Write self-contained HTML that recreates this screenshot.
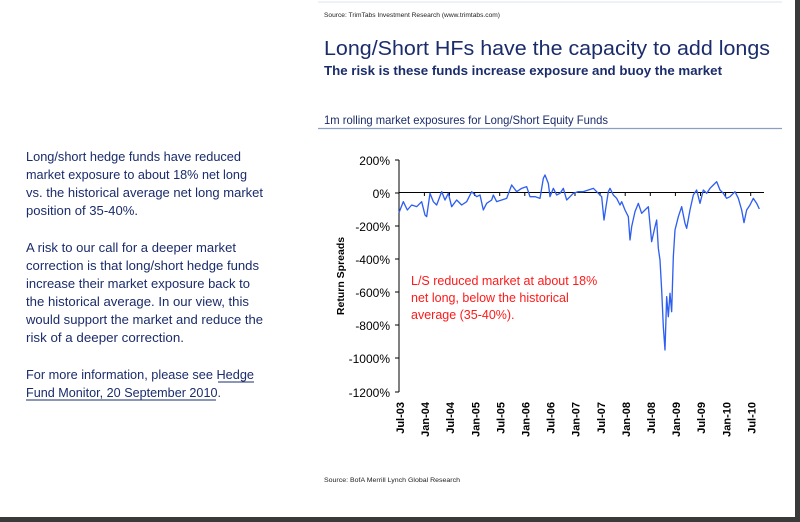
<!DOCTYPE html>
<html><head><meta charset="utf-8"><style>
html,body{margin:0;padding:0;background:#fff;}
svg{display:block;}
text{font-family:"Liberation Sans",sans-serif;}
</style></head><body>
<svg width="800" height="522" viewBox="0 0 800 522" xmlns="http://www.w3.org/2000/svg">
<rect width="800" height="522" fill="#fff"/>
<rect x="795" y="0" width="5" height="522" fill="#3a3a3a"/>
<rect x="0" y="517" width="800" height="5" fill="#3a3a3a"/>
<line x1="318" y1="2" x2="782" y2="2" stroke="#d8e4ee" stroke-width="1"/>
<text x="324" y="17" font-size="6.5" fill="#222" textLength="176" lengthAdjust="spacingAndGlyphs">Source: TrimTabs Investment Research (www.trimtabs.com)</text>
<text x="324" y="55" font-size="20" fill="#1b2c6b" font-family="DejaVu Sans" textLength="446" lengthAdjust="spacingAndGlyphs">Long/Short HFs have the capacity to add longs</text>
<text x="324" y="75" font-size="13" font-weight="bold" fill="#1b2c6b" textLength="398" lengthAdjust="spacingAndGlyphs">The risk is these funds increase exposure and buoy the market</text>
<text x="324" y="124" font-size="12" fill="#1b2c6b" textLength="284" lengthAdjust="spacingAndGlyphs">1m rolling market exposures for Long/Short Equity Funds</text>
<line x1="318" y1="128.5" x2="782" y2="128.5" stroke="#8aa0c0" stroke-width="1.2"/>

<g font-size="12.5" fill="#1b2c6b">
<text x="26" y="161" textLength="215" lengthAdjust="spacingAndGlyphs">Long/short hedge funds have reduced</text>
<text x="26" y="179" textLength="221" lengthAdjust="spacingAndGlyphs">market exposure to about 18% net long</text>
<text x="26" y="197" textLength="237" lengthAdjust="spacingAndGlyphs">vs. the historical average net long market</text>
<text x="26" y="215" textLength="112" lengthAdjust="spacingAndGlyphs">position of 35-40%.</text>
<text x="26" y="252" textLength="210" lengthAdjust="spacingAndGlyphs">A risk to our call for a deeper market</text>
<text x="26" y="270" textLength="233" lengthAdjust="spacingAndGlyphs">correction is that long/short hedge funds</text>
<text x="26" y="288" textLength="224" lengthAdjust="spacingAndGlyphs">increase their market exposure back to</text>
<text x="26" y="306" textLength="223" lengthAdjust="spacingAndGlyphs">the historical average. In our view, this</text>
<text x="26" y="324" textLength="237" lengthAdjust="spacingAndGlyphs">would support the market and reduce the</text>
<text x="26" y="342" textLength="158" lengthAdjust="spacingAndGlyphs">risk of a deeper correction.</text>
<text x="26" y="379" textLength="228" lengthAdjust="spacingAndGlyphs">For more information, please see Hedge</text>
<text x="26" y="397" textLength="195" lengthAdjust="spacingAndGlyphs">Fund Monitor, 20 September 2010.</text>
</g>
<line x1="218" y1="382" x2="254" y2="382" stroke="#1b2c6b" stroke-width="1"/>
<line x1="26" y1="400" x2="216" y2="400" stroke="#1b2c6b" stroke-width="1"/>

<line x1="399" y1="160" x2="399" y2="392" stroke="#000" stroke-width="1"/>
<g stroke="#000" stroke-width="1">
<line x1="395" y1="160" x2="399" y2="160"/>
<line x1="395" y1="193" x2="399" y2="193"/>
<line x1="395" y1="226" x2="399" y2="226"/>
<line x1="395" y1="259" x2="399" y2="259"/>
<line x1="395" y1="292" x2="399" y2="292"/>
<line x1="395" y1="325" x2="399" y2="325"/>
<line x1="395" y1="358" x2="399" y2="358"/>
<line x1="395" y1="392" x2="399" y2="392"/>
</g>
<line x1="399" y1="192.5" x2="764" y2="192.5" stroke="#000" stroke-width="1"/>
<g stroke="#000" stroke-width="1">
<line x1="424.4" y1="192" x2="424.4" y2="196"/><line x1="449.5" y1="192" x2="449.5" y2="196"/>
<line x1="474.6" y1="192" x2="474.6" y2="196"/><line x1="499.7" y1="192" x2="499.7" y2="196"/>
<line x1="524.8" y1="192" x2="524.8" y2="196"/><line x1="549.9" y1="192" x2="549.9" y2="196"/>
<line x1="575" y1="192" x2="575" y2="196"/><line x1="600.1" y1="192" x2="600.1" y2="196"/>
<line x1="625.2" y1="192" x2="625.2" y2="196"/><line x1="650.3" y1="192" x2="650.3" y2="196"/>
<line x1="675.4" y1="192" x2="675.4" y2="196"/><line x1="700.5" y1="192" x2="700.5" y2="196"/>
<line x1="725.6" y1="192" x2="725.6" y2="196"/><line x1="750.7" y1="192" x2="750.7" y2="196"/>
</g>
<g font-size="12" fill="#000" text-anchor="end">
<text x="390" y="165">200%</text>
<text x="390" y="198">0%</text>
<text x="390" y="231">-200%</text>
<text x="390" y="264">-400%</text>
<text x="390" y="297">-600%</text>
<text x="390" y="330">-800%</text>
<text x="390" y="363">-1000%</text>
<text x="390" y="397">-1200%</text>
</g>
<text transform="translate(344,276) rotate(-90)" font-size="10.5" font-weight="bold" text-anchor="middle" fill="#000">Return Spreads</text>
<g font-size="11" font-weight="bold" fill="#000" text-anchor="end">
<text transform="translate(404,402) rotate(-90)">Jul-03</text>
<text transform="translate(429.1,402) rotate(-90)">Jan-04</text>
<text transform="translate(454.2,402) rotate(-90)">Jul-04</text>
<text transform="translate(479.3,402) rotate(-90)">Jan-05</text>
<text transform="translate(504.4,402) rotate(-90)">Jul-05</text>
<text transform="translate(529.5,402) rotate(-90)">Jan-06</text>
<text transform="translate(554.6,402) rotate(-90)">Jul-06</text>
<text transform="translate(579.7,402) rotate(-90)">Jan-07</text>
<text transform="translate(604.8,402) rotate(-90)">Jul-07</text>
<text transform="translate(629.9,402) rotate(-90)">Jan-08</text>
<text transform="translate(655,402) rotate(-90)">Jul-08</text>
<text transform="translate(680.1,402) rotate(-90)">Jan-09</text>
<text transform="translate(705.2,402) rotate(-90)">Jul-09</text>
<text transform="translate(730.3,402) rotate(-90)">Jan-10</text>
<text transform="translate(755.4,402) rotate(-90)">Jul-10</text>
</g>
<g font-size="12.5" fill="#ff1a1a">
<text x="411" y="285">L/S reduced market at about 18%</text>
<text x="411" y="302">net long, below the historical</text>
<text x="411" y="319">average (35-40%).</text>
</g>
<g transform="translate(320,140) scale(0.33333)">
<polyline fill="none" stroke="#2f5ff0" stroke-width="4" stroke-linejoin="round" points="237,218 250,185 262,210 275,195 290,200 305,185 315,225 320,230 330,160 340,185 350,195 365,155 375,180 385,160 395,200 410,180 425,195 440,185 455,155 470,170 480,165 490,210 500,190 515,180 520,165 530,185 545,180 560,175 575,135 590,155 605,145 620,140 630,170 645,170 660,175 670,115 675,105 685,130 690,170 700,145 710,165 720,160 730,145 740,180 750,170 760,160 775,155 790,155 805,150 820,145 835,160 845,170 852,240 858,200 865,155 870,145 880,165 890,175 900,195 905,185 915,210 925,230 930,300 935,260 945,215 955,190 965,220 975,210 985,200 995,305 1005,260 1010,240 1015,325 1020,360 1025,450 1030,560 1035,630 1040,470 1045,530 1050,460 1055,515 1060,350 1065,270 1075,230 1085,200 1095,250 1100,265 1110,210 1120,165 1130,150 1140,190 1150,150 1160,160 1170,145 1180,135 1190,125 1200,150 1210,160 1220,175 1230,170 1245,155 1255,175 1265,210 1272,248 1280,210 1290,195 1300,175 1310,190 1318,207"/>
</g>
<text x="324" y="482" font-size="6.5" fill="#222" textLength="136" lengthAdjust="spacingAndGlyphs">Source: BofA Merrill Lynch Global Research</text>
</svg>
</body></html>
